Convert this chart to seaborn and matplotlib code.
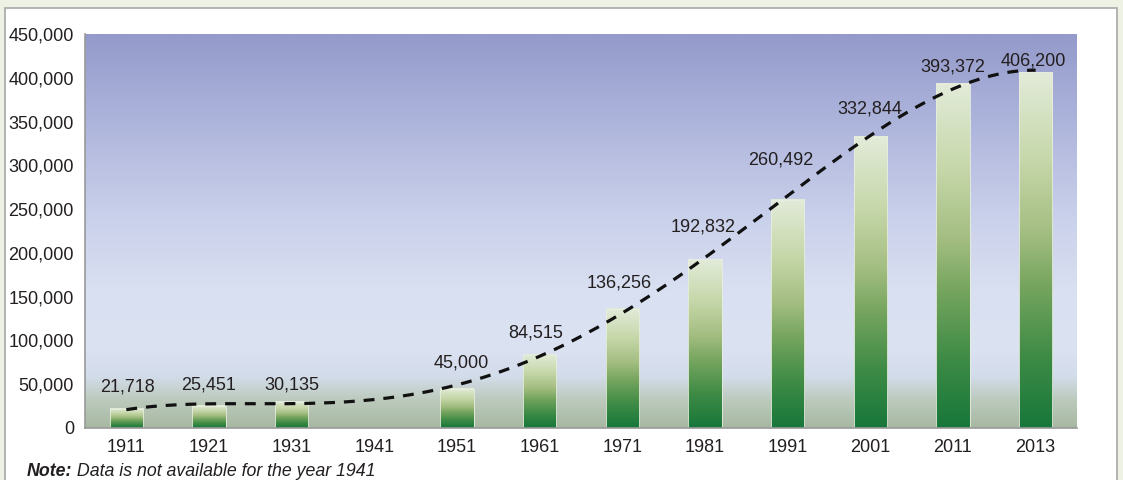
import numpy as np
import pandas as pd
import matplotlib
matplotlib.use("Agg")
import matplotlib.pyplot as plt
from matplotlib.colors import LinearSegmentedColormap
from matplotlib.patches import Rectangle
import seaborn as sns

# data (1941 has no data)
years = ["1911", "1921", "1931", "1941", "1951", "1961",
         "1971", "1981", "1991", "2001", "2011", "2013"]
data_years = ["1911", "1921", "1931", "1951", "1961",
              "1971", "1981", "1991", "2001", "2011", "2013"]
values = [21718, 25451, 30135, 45000, 84515,
          136256, 192832, 260492, 332844, 393372, 406200]
labels = ["21,718", "25,451", "30,135", "45,000", "84,515",
          "136,256", "192,832", "260,492", "332,844", "393,372", "406,200"]
y_ticks = [0, 50000, 100000, 150000, 200000, 250000, 300000, 350000, 400000, 450000]
note_bold = "Note:"
note_text = " Data is not available for the year 1941"

# label placement (pixels from bar top to label centre, and sideways nudge)
label_dy = [22, 21, 17, 26, 21, 26, 32, 40, 28, 17, 11]
label_dx = [1, 0, 0, 4, -4, -3, -2, -7, -1, 0, -2]

sns.set_style("white")
plt.rcParams["font.family"] = ["Liberation Sans", "DejaVu Sans"]
text_color = "#231f20"

df = pd.DataFrame({"year": data_years, "value": values})

fig = plt.figure(figsize=(11.23, 4.80), dpi=100, facecolor="#edf2e5")

# white panel behind the chart
fig.patches.append(Rectangle((5 / 1123, -0.05), 1112 / 1123, 1 - 8 / 480 + 0.05,
                             transform=fig.transFigure, facecolor="white",
                             edgecolor="#a8a8a8", linewidth=1.2, zorder=-5))

ax = fig.add_axes([85 / 1123, 1 - 428 / 480, 992 / 1123, 394 / 480])
ax.set_facecolor("none")
ax.set_zorder(2)

# gradient plot area background
bg_cmap = LinearSegmentedColormap.from_list("bg", [
    (0.0, "#a7b8a2"), (0.07, "#bccabd"), (0.13, "#d3dcea"), (0.2, "#dbe2f2"),
    (0.35, "#d9e0f1"), (0.55, "#c8cfea"), (0.8, "#abb2da"), (1.0, "#949aca")])
grad = np.linspace(0, 1, 256).reshape(-1, 1)
ax.imshow(grad, extent=[0, 1, 0, 1], origin="lower", aspect="auto",
          cmap=bg_cmap, transform=ax.transAxes, zorder=0)

sns.barplot(data=df, x="year", y="value", order=years, width=0.4,
            color="white", ax=ax, zorder=2)

bar_cmap = LinearSegmentedColormap.from_list("bar", [
    (0.0, "#17773a"), (0.2, "#3e8b46"), (0.4, "#76a55f"), (0.55, "#a4be82"),
    (0.75, "#c6d7a9"), (1.0, "#e2ebd9")])
for p in ax.patches:
    x0, w, h = p.get_x(), p.get_width(), p.get_height()
    if not np.isfinite(h) or h <= 0:
        continue
    ax.imshow(grad, extent=[x0, x0 + w, 0, h], origin="lower", aspect="auto",
              cmap=bar_cmap, zorder=3)
    p.set_facecolor("none")
    p.set_edgecolor("#e8eee0")
    p.set_linewidth(0.6)
    p.set_zorder(4)

# polynomial trend line (order 4) over category positions
pos = np.array([years.index(y) for y in data_years], dtype=float)
coef = np.polyfit(pos, values, 4)
xs = np.linspace(pos[0], pos[-1], 200)
sns.lineplot(x=xs, y=np.polyval(coef, xs), ax=ax, color="#111111",
             linewidth=2.3, zorder=5)
ax.lines[-1].set_linestyle((0, (3.4, 2.8)))

# value labels
for yr, v, lab, dy, dx in zip(data_years, values, labels, label_dy, label_dx):
    ax.annotate(lab, (years.index(yr), v), xytext=(dx * 0.72, dy * 0.72),
                textcoords="offset points", ha="center", va="center",
                fontsize=13, color=text_color, zorder=6)

ax.set_xlim(-0.5, len(years) - 0.5)
ax.set_ylim(0, 450000)
ax.set_yticks(y_ticks)
ax.set_yticklabels([f"{t:,}" for t in y_ticks])
ax.set_xticks(range(len(years)))
ax.set_xticklabels(years)
ax.set_xticks(np.arange(-0.5, len(years)), minor=True)
ax.tick_params(axis="x", which="major", length=0, pad=8, labelsize=13,
               labelcolor=text_color)
ax.tick_params(axis="x", which="minor", length=6, width=1.2, color="#999999",
               direction="out")
ax.tick_params(axis="y", length=5, width=1.2, color="#999999", direction="out",
               labelsize=13, labelcolor=text_color, pad=3)
ax.set_xlabel("")
ax.set_ylabel("")
for s in ["top", "right"]:
    ax.spines[s].set_visible(False)
for s in ["left", "bottom"]:
    ax.spines[s].set_color("#999999")
    ax.spines[s].set_linewidth(1.2)
    ax.spines[s].set_zorder(7)

t = fig.text(27 / 1123, 1 - 471 / 480, note_bold, fontsize=12.8, fontweight="bold",
             fontstyle="italic", color=text_color, va="center", ha="left")
fig.canvas.draw()
bb = t.get_window_extent()
fig.text(bb.x1 / fig.bbox.width, 1 - 471 / 480, note_text, fontsize=12.8,
         fontstyle="italic", color=text_color, va="center", ha="left")

fig.savefig("out.png", dpi=100, facecolor=fig.get_facecolor())
